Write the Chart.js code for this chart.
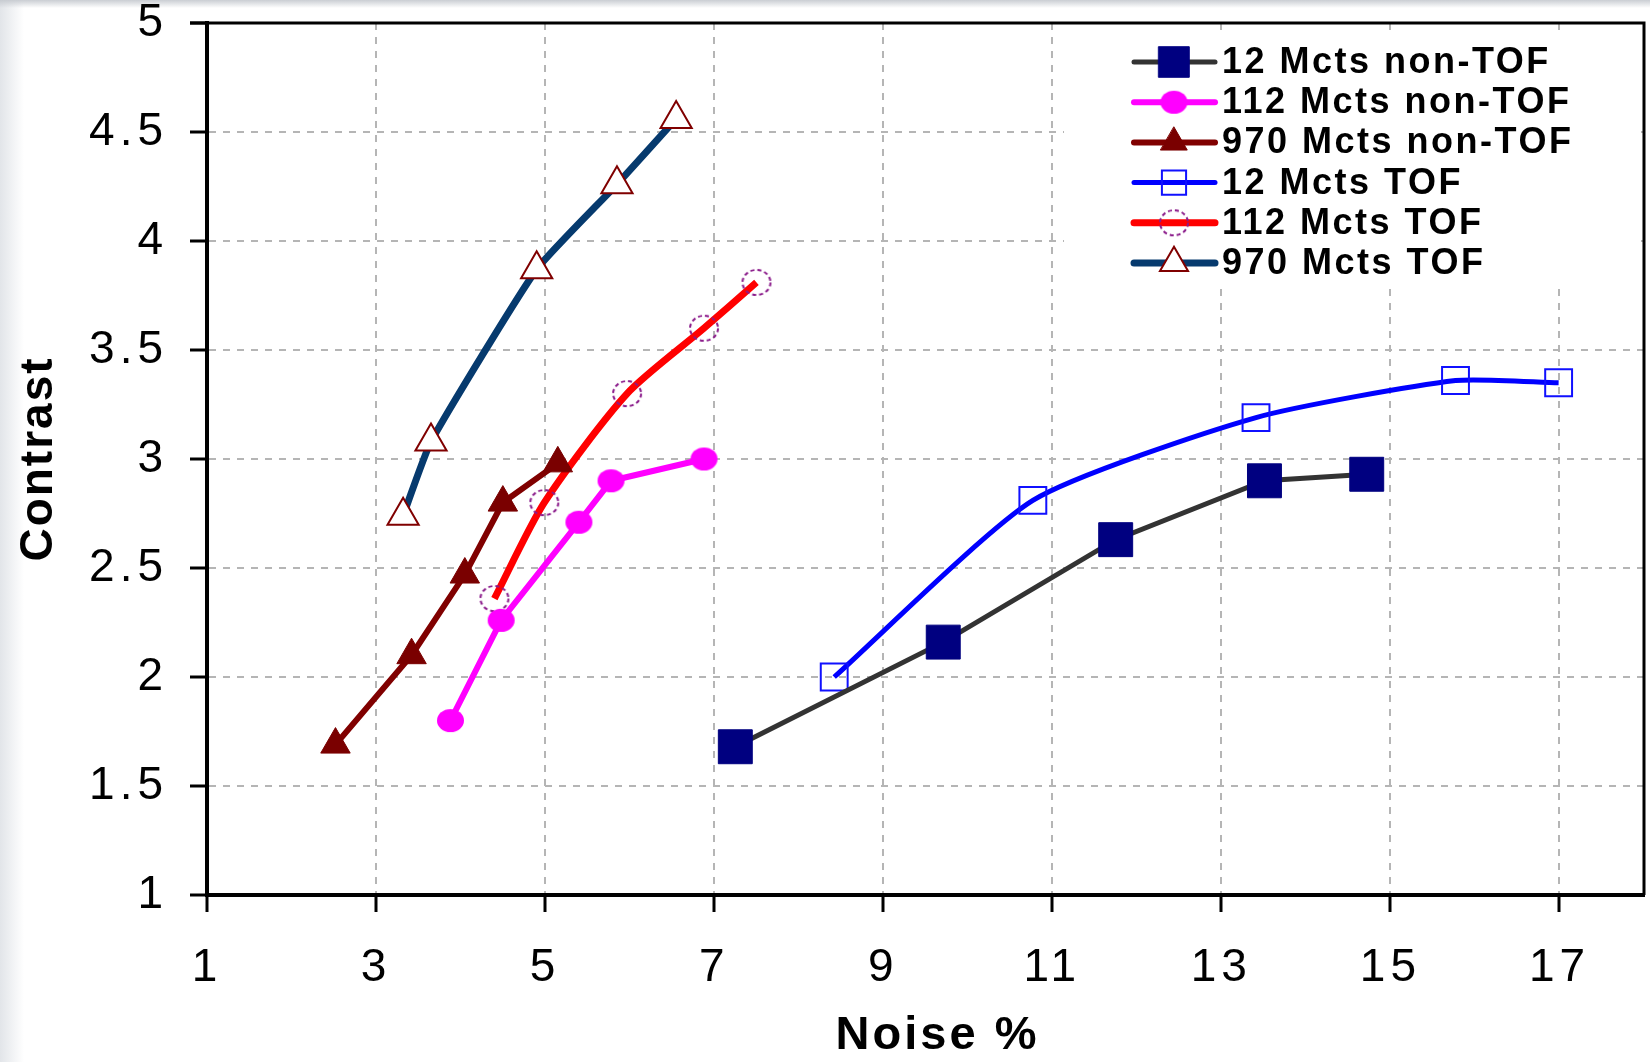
<!DOCTYPE html>
<html>
<head>
<meta charset="utf-8">
<script src="https://cdn.jsdelivr.net/npm/chart.js@4.4.1/dist/chart.umd.min.js"></script>
<style>
  html, body { margin: 0; padding: 0; }
  body {
    width: 1650px; height: 1062px; overflow: hidden;
    background:
      linear-gradient(to bottom, rgba(196,200,206,0.9) 0px, rgba(255,255,255,0) 8px),
      linear-gradient(to right, #e2e5e9 0px, #ffffff 24px);
  }
  #wrap { position: absolute; left: 0; top: 0; width: 1650px; height: 1062px; }
</style>
</head>
<body>
<div id="wrap"><canvas id="chart" width="1650" height="1062"></canvas></div>
<script>
// noise (%) / contrast pairs
const noise12 = [7.25, 9.71, 11.75, 13.51, 14.72];
const contrast12 = [1.68, 2.16, 2.63, 2.90, 2.93];
const noise112 = [3.88, 4.48, 5.40, 5.78, 6.88];
const contrast112 = [1.80, 2.26, 2.71, 2.90, 3.00];
const noise970 = [2.52, 3.42, 4.05, 4.50, 5.15];
const contrast970 = [1.69, 2.10, 2.47, 2.80, 2.98];
const noise12Tof = [8.42, 10.77, 13.41, 15.77, 16.99];
const contrast12Tof = [2.00, 2.81, 3.19, 3.36, 3.35];
const noise112Tof = [4.40, 4.99, 5.97, 6.88, 7.50];
const contrast112Tof = [2.36, 2.80, 3.30, 3.60, 3.81];
const noise970Tof = [3.32, 3.65, 4.90, 5.85, 6.55];
const contrast970Tof = [2.74, 3.08, 3.87, 4.26, 4.56];

const seriesNames = [
  "12 Mcts non-TOF", "112 Mcts non-TOF", "970 Mcts non-TOF",
  "12 Mcts TOF", "112 Mcts TOF", "970 Mcts TOF"
];
const xTicks = [1, 3, 5, 7, 9, 11, 13, 15, 17];
const yTicks = [1, 1.5, 2, 2.5, 3, 3.5, 4, 4.5, 5];

const FONT = "'Liberation Sans', Arial, sans-serif";

function pairs(xs, ys) {
  return xs.map((x, i) => ({ x: x, y: ys[i] }));
}

// the original markers are a bit wider than tall, so circles are drawn as small images
function ellipseMarker(w, h, fill, stroke, dashed) {
  const c = document.createElement("canvas");
  c.width = w + 4; c.height = h + 4;
  const g = c.getContext("2d");
  g.beginPath();
  g.ellipse(c.width / 2, c.height / 2, w / 2, h / 2, 0, 0, Math.PI * 2);
  if (fill) { g.fillStyle = fill; g.fill(); }
  if (stroke) {
    g.strokeStyle = stroke;
    g.lineWidth = 2;
    if (dashed) g.setLineDash([4, 3]);
    g.stroke();
  }
  return c;
}
const dotMagenta = ellipseMarker(27, 23, "#ff00ff", null, false);
const ringPurple = ellipseMarker(28, 25, null, "#8a1a8a", true);

const datasets = [
  { label: seriesNames[0], data: pairs(noise12, contrast12), borderColor: "#333333", borderWidth: 5,
    pointStyle: "rect", pointRadius: 24, pointBackgroundColor: "#000080", pointBorderColor: "#000080",
    pointBorderWidth: 1, tension: 0 },
  { label: seriesNames[1], data: pairs(noise112, contrast112), borderColor: "#ff00ff", borderWidth: 6,
    pointStyle: dotMagenta, pointRadius: 13, pointBackgroundColor: "#ff00ff", pointBorderColor: "#ff00ff",
    pointBorderWidth: 1, tension: 0 },
  { label: seriesNames[2], data: pairs(noise970, contrast970), borderColor: "#800000", borderWidth: 6,
    pointStyle: "triangle", pointRadius: 17, pointBackgroundColor: "#7a0000", pointBorderColor: "#7a0000",
    pointBorderWidth: 1, tension: 0 },
  { label: seriesNames[3], data: pairs(noise12Tof, contrast12Tof), borderColor: "#0000ff", borderWidth: 5,
    pointStyle: "rect", pointRadius: 19, pointBackgroundColor: "rgba(0,0,0,0)", pointBorderColor: "#1010ff",
    pointBorderWidth: 2, tension: 0.2 },
  { label: seriesNames[4], data: pairs(noise112Tof, contrast112Tof), borderColor: "#ff0000", borderWidth: 7,
    pointStyle: ringPurple, pointRadius: 14, pointBackgroundColor: "rgba(0,0,0,0)", pointBorderColor: "#8a1a8a",
    pointBorderWidth: 2, tension: 0.25 },
  { label: seriesNames[5], data: pairs(noise970Tof, contrast970Tof), borderColor: "#063a6e", borderWidth: 7,
    pointStyle: "triangle", pointRadius: 18, pointBackgroundColor: "#ffffff", pointBorderColor: "#800000",
    pointBorderWidth: 2, tension: 0.15 }
];

// wider letter spacing on tick labels and titles, as in the source figure
const textSpacing = {
  id: "textSpacing",
  afterLayout(chart) {
    const ctx = chart.ctx;
    Object.values(chart.scales).forEach((s) => {
      if (s._spaced) return;
      s._spaced = true;
      const labels = s.drawLabels;
      const title = s.drawTitle;
      s.drawLabels = function (a) {
        ctx.save(); ctx.letterSpacing = "5px"; labels.call(this, a); ctx.restore();
      };
      s.drawTitle = function () {
        ctx.save();
        if (s.axis === "x") { ctx.letterSpacing = "3px"; ctx.translate(12, 0); }
        else { ctx.letterSpacing = "2px"; }
        title.call(this);
        ctx.restore();
      };
    });
  }
};

// legend drawn inside the plot, over the grid, like the original
const insideLegend = {
  id: "insideLegend",
  beforeDatasetsDraw(chart) {
    const ctx = chart.ctx;
    ctx.save();
    ctx.fillStyle = "#ffffff";
    ctx.fillRect(1064, 32, 577, 257);
    chart.data.datasets.forEach((ds, i) => {
      const y = 62 + i * 40.2;
      ctx.setLineDash([]);
      ctx.strokeStyle = ds.borderColor;
      ctx.lineWidth = ds.borderWidth;
      ctx.lineCap = "round";
      ctx.beginPath();
      ctx.moveTo(1134, y);
      ctx.lineTo(1215, y);
      ctx.stroke();
      ctx.fillStyle = ds.pointBackgroundColor;
      ctx.strokeStyle = ds.pointBorderColor;
      ctx.lineWidth = ds.pointBorderWidth;
      Chart.helpers.drawPoint(ctx, {
        pointStyle: ds.pointStyle,
        radius: ds.pointRadius * 0.9,
        rotation: 0,
        borderWidth: ds.pointBorderWidth
      }, 1174, y);
      ctx.fillStyle = "#000000";
      ctx.font = "bold 36px " + FONT;
      ctx.letterSpacing = "2.5px";
      ctx.textBaseline = "middle";
      ctx.textAlign = "left";
      ctx.fillText(ds.label, 1222, y + 1);
      ctx.letterSpacing = "0px";
    });
    ctx.restore();
  },
  afterDraw(chart) {
    const a = chart.chartArea;
    const ctx = chart.ctx;
    ctx.save();
    ctx.strokeStyle = "#000000";
    ctx.lineWidth = 3;
    ctx.beginPath();
    ctx.moveTo(190, a.top);
    ctx.lineTo(a.right, a.top);
    ctx.lineTo(a.right, a.bottom);
    ctx.stroke();
    ctx.restore();
  }
};

new Chart(document.getElementById("chart"), {
  type: "line",
  data: { datasets: datasets },
  plugins: [textSpacing, insideLegend],
  options: {
    responsive: false,
    devicePixelRatio: 1,
    animation: false,
    layout: { autoPadding: false, padding: { top: 23, right: 6, left: 0, bottom: 0 } },
    plugins: { legend: { display: false }, tooltip: { enabled: false } },
    elements: { line: { fill: false } },
    scales: {
      x: {
        type: "linear",
        min: 1,
        max: 18,
        afterBuildTicks: (scale) => { scale.ticks = xTicks.map(v => ({ value: v })); },
        afterFit: (scale) => { scale.height = 167; scale.paddingLeft = 0; scale.paddingRight = 0; },
        grid: {
          color: "#b5b5b5", lineWidth: 2, drawTicks: true, tickLength: 17,
          tickColor: "#000000", tickWidth: 3, tickBorderDash: []
        },
        border: { display: true, color: "#000000", width: 4, dash: [7, 7] },
        ticks: {
          color: "#000000", padding: 29, maxRotation: 0,
          font: { family: FONT, size: 46, lineHeight: 1.2 }
        },
        title: {
          display: true, text: "Noise %", color: "#000000",
          font: { family: FONT, size: 47, weight: "bold", lineHeight: 1.1 },
          padding: { top: 0, bottom: 0 }
        }
      },
      y: {
        type: "linear",
        min: 1,
        max: 5,
        afterBuildTicks: (scale) => { scale.ticks = yTicks.map(v => ({ value: v })); },
        afterFit: (scale) => { scale.width = 207; scale.paddingTop = 0; scale.paddingBottom = 0; },
        grid: {
          color: "#b5b5b5", lineWidth: 2, drawTicks: true, tickLength: 17,
          tickColor: "#000000", tickWidth: 3, tickBorderDash: []
        },
        border: { display: true, color: "#000000", width: 4, dash: [7, 7] },
        ticks: {
          color: "#000000", padding: 22,
          font: { family: FONT, size: 46, lineHeight: 1 },
          callback: (v) => String(v)
        },
        title: {
          display: true, text: "Contrast", color: "#000000",
          font: { family: FONT, size: 46, weight: "bold", lineHeight: 1.1 },
          padding: { top: 14, bottom: 0 }
        }
      }
    }
  }
});
</script>
</body>
</html>
